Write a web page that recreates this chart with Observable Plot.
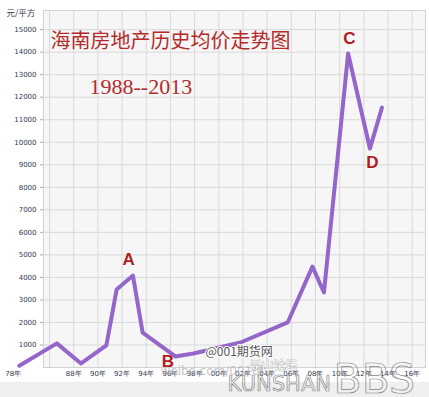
<!DOCTYPE html>
<html><head><meta charset="utf-8">
<script src="https://cdn.jsdelivr.net/npm/d3@7"></script>
<script src="https://cdn.jsdelivr.net/npm/@observablehq/plot@0.6"></script>
<style>
body{margin:0;background:#fff;}
#chart{position:relative;width:429px;height:397px;background:linear-gradient(#fff 382px,#efefef 382px);}
#chart svg{display:block;}
</style>
</head><body><div id="chart"></div>
<script>
// line data (x position in year units, price 元/平方)
const years  = [1983.5, 1986.6, 1988.6, 1990.7, 1991.55, 1992.9, 1993.7, 1996.4, 1997.9, 2001.8, 2005.7, 2007.75, 2008.7, 2010.7, 2012.5, 2013.5];
const prices = [80, 1070, 180, 980, 3460, 4080, 1550, 490, 620, 1110, 2000, 4480, 3330, 13940, 9720, 11540];

// axis ticks
const yTicks = [1000, 2000, 3000, 4000, 5000, 6000, 7000, 8000, 9000, 10000, 11000, 12000, 13000, 14000, 15000];
const xTickYears  = [1983, 1988, 1990, 1992, 1994, 1996, 1998, 2000, 2002, 2004, 2006, 2008, 2010, 2012, 2014, 2016];
const xTickLabels = ["78年", "88年", "90年", "92年", "94年", "96年", "98年", "00年", "02年", "04年", "06年", "08年", "10年", "12年", "14年", "16年"];
const gridYears   = [1986, 1988, 1990, 1992, 1994, 1996, 1998, 2000, 2002, 2004, 2006, 2008, 2010, 2012, 2014, 2016];

// point annotations
const markNames  = ["A", "B", "C", "D"];
const markYears  = [1992.55, 1995.8, 2010.8, 2012.7];
const markValues = [4790, 270, 14600, 9100];

const title = "海南房地产历史均价走势图";
const subtitle = "1988--2013";
const unitLabel = "元/平方";

const lineData = years.map((x, i) => ({x, y: prices[i]}));
const xLabelData = xTickYears.map((x, i) => ({x, t: xTickLabels[i]}));
const markData = markNames.map((t, i) => ({t, x: markYears[i], y: markValues[i]}));

const chart = Plot.plot({
  width: 429, height: 397,
  marginLeft: 43, marginTop: 10, marginBottom: 30, marginRight: 4,
  x: {domain: [1985.5, 2017.1], axis: null},
  y: {domain: [0, 15850]},
  style: {background: "transparent", fontFamily: "DejaVu Sans"},
  marks: [
    Plot.frame({fill: "#f6f6f6", stroke: "#d2d2d2"}),
    Plot.ruleY(yTicks, {stroke: "#d9d9d9", strokeWidth: 1}),
    Plot.ruleX(gridYears, {stroke: "#d9d9d9", strokeWidth: 1}),
    Plot.axisY({ticks: yTicks, tickSize: 3, tickPadding: 4, fontSize: 7, fill: "#333a50", stroke: "#aaa", label: null, tickFormat: d => String(d)}),
    Plot.text(xLabelData, {x: "x", text: "t", frameAnchor: "bottom", dy: 6, lineAnchor: "middle", fontSize: 7, fill: "#333a50"}),
    Plot.text([unitLabel], {frameAnchor: "top-left", dx: -37, dy: 3, textAnchor: "start", lineAnchor: "middle", fontSize: 8.5, fill: "#333a50", fontFamily: "Noto Sans CJK SC"}),
    Plot.line(lineData, {x: "x", y: "y", stroke: "#9466c9", strokeWidth: 4, strokeLinejoin: "round", strokeLinecap: "round"}),
    Plot.text(markData, {x: "x", y: "y", text: "t", fontSize: 17, fontWeight: "bold", fill: "#b01d1d", fontFamily: "Liberation Sans"}),
    Plot.text([title], {frameAnchor: "top-left", dx: 7, dy: 31, textAnchor: "start", lineAnchor: "middle", fontSize: 20, fill: "#b52a2a", fontFamily: "Noto Sans CJK SC"}),
    Plot.text([subtitle], {frameAnchor: "top-left", dx: 46, dy: 76, textAnchor: "start", lineAnchor: "middle", fontSize: 22, fill: "#b52a2a", fontFamily: "Liberation Serif"}),
    // watermarks
    Plot.text(["@001期货网"], {frameAnchor: "bottom-left", dx: 162, dy: -15, textAnchor: "start", lineAnchor: "middle", fontSize: 12, fill: "#555", stroke: "white", strokeWidth: 2, paintOrder: "stroke", fontFamily: "Noto Sans CJK SC"}),
    Plot.text(["weibo.com/001qh"], {frameAnchor: "bottom-left", dx: 117, dy: 4, textAnchor: "start", lineAnchor: "middle", fontSize: 12, fill: "#aaa", fillOpacity: 0.7}),
    Plot.text(["昆山论坛"], {frameAnchor: "bottom-left", dx: 206, dy: -1, textAnchor: "start", lineAnchor: "middle", fontSize: 12, fill: "white", stroke: "#999", strokeWidth: 0.7, fontFamily: "Noto Sans CJK SC"}),
    Plot.text(["KUNSHAN"], {frameAnchor: "bottom-left", dx: 184, dy: 23, textAnchor: "start", lineAnchor: "bottom", fontSize: 21, fill: "none", stroke: "#888", strokeWidth: 0.7}),
    Plot.text(["BBS"], {frameAnchor: "bottom-left", dx: 290, dy: 25, textAnchor: "start", lineAnchor: "bottom", fontSize: 41, fill: "none", stroke: "#888", strokeWidth: 0.7})
  ]
});
document.getElementById("chart").appendChild(chart);
</script>
</body></html>
